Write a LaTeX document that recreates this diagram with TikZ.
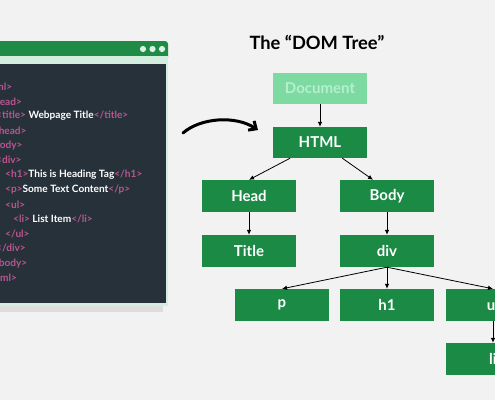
\documentclass[tikz,border=0pt]{standalone}
\usepackage{fontspec}
\setmainfont{Lato}
\usetikzlibrary{arrows.meta}
\definecolor{bgc}{HTML}{F2F2F2}
\definecolor{barg}{HTML}{1F8C46}
\definecolor{mintc}{HTML}{D3EEDF}
\definecolor{panelc}{HTML}{27313A}
\definecolor{shadc}{HTML}{DDDDDD}
\definecolor{tagc}{HTML}{B8568F}
\definecolor{nodeg}{HTML}{1B8A45}
\definecolor{docg}{HTML}{7DDBA1}
\definecolor{doct}{HTML}{B5F0CD}
\newcommand\tg[1]{\textcolor{tagc}{#1}}
\tikzset{
  codeline/.style={anchor=west,inner sep=0pt,font=\fontsize{10.1}{12}\selectfont\bfseries,text=white},
  treebox/.style={fill=nodeg,minimum width=94pt,minimum height=32pt,inner sep=0pt,text=white,font=\fontsize{15}{18}\selectfont\bfseries},
  link/.style={draw=black,line width=0.8pt,-{Latex[length=5pt,width=4.5pt]}}
}
\begin{document}
\begin{tikzpicture}[x=1pt,y=-1pt]
\useasboundingbox (0,0) rectangle (495,400);
\fill[bgc] (0,0) rectangle (495,400);
% browser window
\begin{scope}
\clip (0,0) rectangle (495,400);
\fill[shadc] (-10,303) rectangle (163,312);
\fill[barg,rounded corners=3pt] (-10,41) rectangle (168,60);
\fill[mintc] (-10,56) rectangle (168,306);
\fill[panelc] (-10,64) rectangle (166,303);
\foreach \dx in {143,152.5,162}{\fill[mintc!80!white] (\dx,49) circle (3.1);}
\node[codeline] (c0) at (-20,86.7) {\tg{<html>}};
\node[codeline] (c1) at (-12,101.4) {\tg{<head>}};
\node[codeline] (c2) at (-4,116.1) {\tg{<title>} Webpage Title\tg{</title>}};
\node[codeline] (c3) at (-12,130.8) {\tg{</head>}};
\node[codeline] (c4) at (-12,145.5) {\tg{<body>}};
\node[codeline] (c5) at (-4,160.2) {\tg{<div>}};
\node[codeline] (c6) at (5,174.9) {\tg{<h1>}This is Heading Tag\tg{</h1>}};
\node[codeline] (c7) at (5,189.6) {\tg{<p>}Some Text Content\tg{</p>}};
\node[codeline] (c8) at (5,204.3) {\tg{<ul>}};
\node[codeline] (c9) at (13,219.0) {\tg{<li>} List Item\tg{</li>}};
\node[codeline] (c10) at (5,233.7) {\tg{</ul>}};
\node[codeline] (c11) at (-4,248.4) {\tg{</div>}};
\node[codeline] (c12) at (-12,263.1) {\tg{</body>}};
\node[codeline] (c13) at (-20,277.8) {\tg{</html>}};
\end{scope}
% title
\node[font=\fontsize{18.3}{21}\selectfont\bfseries] (ttl) at (317,42) {The “DOM Tree”};
% curved arrow
\coordinate (ca) at (183,133);
\coordinate (cb) at (258,130);
\draw[line width=3pt,line cap=round,-{Straight Barb[length=6pt,width=11pt,line width=3pt]}] (ca) .. controls (200,118) and (235,115) .. (cb);
% tree
\node[treebox,fill=docg,text=doct,minimum height=31pt] (doc) at (320,88.5) {Document};
\node[treebox,minimum height=31pt] (html) at (320,142.5) {HTML};
\node[treebox] (head) at (249,196) {Head};
\node[treebox] (body) at (387,196) {Body};
\node[treebox] (title) at (249,251) {Title};
\node[treebox] (div) at (387,251) {div};
\node[treebox] (p) at (282,305) {p};
\node[treebox] (h1) at (387,305) {h1};
\node[treebox] (ul) at (493,305) {ul};
\node[treebox] (li) at (493,359) {li};
\draw[link] (doc) -- (html);
\draw[link] (html) -- (head.north);
\draw[link] (html) -- ([xshift=-14pt]body.north);
\draw[link] (head) -- (title);
\draw[link] (body) -- (div);
\draw[link] (div.south) -- (p.north);
\draw[link] (div) -- (h1);
\draw[link] (div.south) -- (ul.north);
\draw[link] (ul) -- (li);
\end{tikzpicture}
\end{document}
